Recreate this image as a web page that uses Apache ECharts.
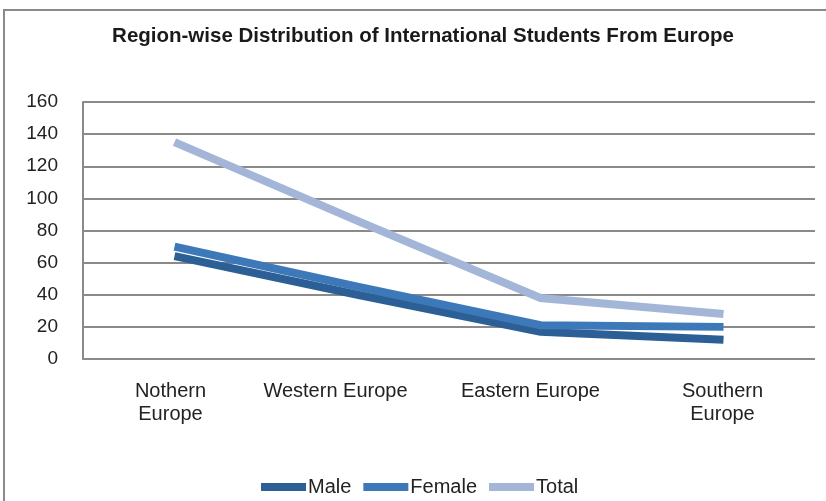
<!DOCTYPE html>
<html>
<head>
<meta charset="utf-8">
<script src="https://cdn.jsdelivr.net/npm/echarts@6/dist/echarts.min.js"></script>
<style>
  html, body { margin: 0; padding: 0; background: #fff; }
  #chart { width: 826px; height: 501px; }
</style>
</head>
<body>
<div id="chart"></div>
<script>
// data
const regions = ['Nothern\nEurope', 'Western Europe', 'Eastern Europe', 'Southern\nEurope']
const male = [64, 40, 17, 12]
const female = [70, 45, 21, 20]
const total = [135, 86, 38, 28]
const yTicks = [0, 20, 40, 60, 80, 100, 120, 140, 160]

// the source labels sit a little left of their points
const labelShift = { 'Nothern\nEurope': 'a', 'Western Europe': 'b', 'Eastern Europe': 'c', 'Southern\nEurope': 'd' }

const chart = echarts.init(document.getElementById('chart'))

const lineSeries = (name, data, color) => ({
  name: name,
  type: 'line',
  data: data,
  symbol: 'none',
  lineStyle: { width: 8, color: color, cap: 'butt', join: 'miter' },
  itemStyle: { color: color }
})

const labelFont = { fontFamily: 'Liberation Sans', fontSize: 20, color: '#222', lineHeight: 23 }

chart.setOption({
  animation: false,
  title: {
    text: 'Region-wise Distribution of International Students From Europe',
    left: 418,
    textAlign: 'center',
    top: 21,
    textStyle: { fontFamily: 'Liberation Sans', fontSize: 20.5, fontWeight: 'bold', color: '#1a1a1a' }
  },
  graphic: [{
    type: 'rect',
    shape: { x: 4, y: 10, width: 840, height: 520 },
    style: { fill: 'none', stroke: '#8a8a8a', lineWidth: 2 },
    silent: true
  }],
  legend: {
    bottom: -1,
    left: 256,
    itemWidth: 45,
    itemHeight: 8,
    itemGap: 12,
    icon: 'rect',
    textStyle: { fontFamily: 'Liberation Sans', fontSize: 20, color: '#222', padding: [0, 0, 0, -3] },
    data: ['Male', 'Female', 'Total']
  },
  grid: { left: 83, right: 11, top: 102, bottom: 142 },
  xAxis: {
    type: 'category',
    data: regions,
    axisLine: { show: false },
    axisTick: { show: false },
    axisLabel: {
      interval: 0,
      margin: 21,
      formatter: (v) => '{' + labelShift[v] + '|' + v + '}',
      rich: {
        a: Object.assign({ padding: [0, 8, 0, 0] }, labelFont),
        b: Object.assign({ padding: [0, 44, 0, 0] }, labelFont),
        c: Object.assign({ padding: [0, 20, 0, 0] }, labelFont),
        d: Object.assign({ padding: [0, 2, 0, 0] }, labelFont)
      }
    }
  },
  yAxis: {
    type: 'value',
    min: yTicks[0],
    max: yTicks[yTicks.length - 1],
    interval: 20,
    axisLine: { show: true, lineStyle: { color: '#8a8a8a', width: 2 } },
    axisTick: { show: false },
    axisLabel: { fontFamily: 'Liberation Sans', fontSize: 19, color: '#222', margin: 25 },
    splitLine: { lineStyle: { color: '#8a8a8a', width: 2 } }
  },
  series: [
    lineSeries('Male', male, '#2c5f95'),
    lineSeries('Female', female, '#3d79b9'),
    lineSeries('Total', total, '#a3b6d7')
  ]
})
</script>
</body>
</html>
